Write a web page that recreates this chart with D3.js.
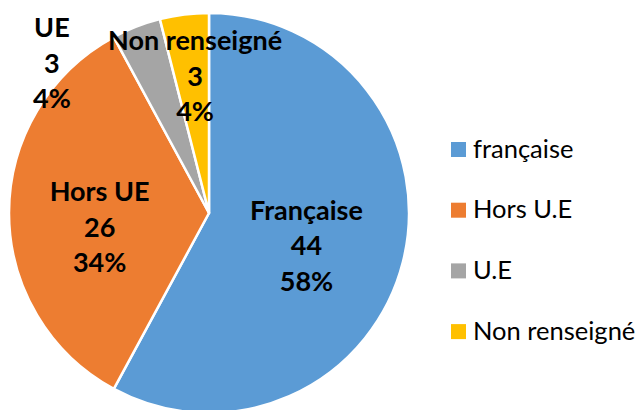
<!DOCTYPE html>
<html>
<head>
<meta charset="utf-8">
<script src="https://cdn.jsdelivr.net/npm/d3@7"></script>
<style>
  body { margin: 0; background: #fff; }
  svg { display: block; font-family: Lato, "Open Sans", sans-serif; }
</style>
</head>
<body>
<svg id="chart" width="641" height="410"></svg>
<script>
// data
const categories = ["Française", "Hors UE", "UE", "Non renseigné"];
const legendLabels = ["française", "Hors U.E", "U.E", "Non renseigné"];
const values = [44, 26, 3, 3];
const colors = ["#5B9BD5", "#ED7D31", "#A5A5A5", "#FFC000"];

const width = 641, height = 410;
const cx = 209, cy = 213, radius = 200;

// label placement: [angle in degrees from top clockwise, radius fraction]
const labelPos = [[107.2, 0.51], [263.9, 0.55], [314.1, 1.094], [354.3, 0.70]];

const svg = d3.select("#chart");
const total = d3.sum(values);
const data = categories.map((c, i) => ({ label: c, value: values[i], color: colors[i] }));

const pie = d3.pie().sort(null).value(d => d.value);
const arc = d3.arc().innerRadius(0).outerRadius(radius);

const g = svg.append("g").attr("transform", `translate(${cx},${cy})`);

g.selectAll("path")
  .data(pie(data))
  .enter().append("path")
  .attr("d", arc)
  .attr("fill", d => d.data.color)
  .attr("stroke", "#fff")
  .attr("stroke-width", 2.5)
  .attr("stroke-linejoin", "round");

// data labels: name, value, percent
const lineH = 35.5;
const labels = g.selectAll("text.lbl")
  .data(data)
  .enter().append("text")
  .attr("class", "lbl")
  .attr("text-anchor", "middle")
  .attr("font-weight", "bold")
  .attr("font-size", 27)
  .attr("fill", "#000")
  .attr("transform", (d, i) => {
    const a = labelPos[i][0] * Math.PI / 180, r = labelPos[i][1] * radius;
    return `translate(${r * Math.sin(a)},${-r * Math.cos(a)})`;
  });

labels.each(function (d) {
  const t = d3.select(this);
  const lines = [d.label, d.value, Math.round(d.value / total * 100) + "%"];
  lines.forEach((s, k) => {
    t.append("tspan").attr("x", 0).attr("y", (k - 1) * lineH + 12).text(s);
  });
});

// legend
const legend = svg.append("g").attr("transform", "translate(451,142)");
const item = legend.selectAll("g")
  .data(legendLabels)
  .enter().append("g")
  .attr("transform", (d, i) => `translate(0,${i * 60.7})`);

item.append("rect")
  .attr("width", 15).attr("height", 15)
  .attr("fill", (d, i) => colors[i]);

item.append("text")
  .attr("x", 22).attr("y", 15.5)
  .attr("font-size", 25.5)
  .attr("fill", "#000")
  .text(d => d);
</script>
</body>
</html>
